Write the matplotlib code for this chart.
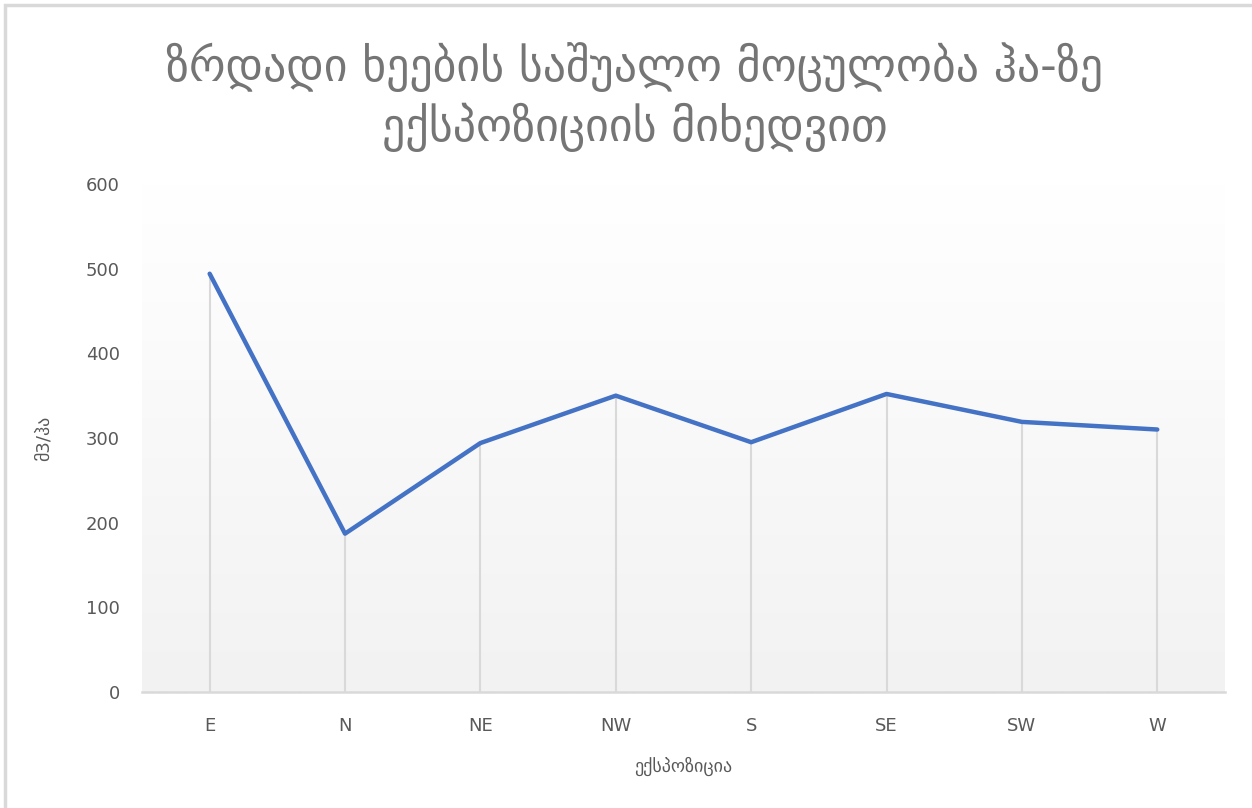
import numpy as np
import matplotlib
matplotlib.use("Agg")
import matplotlib.pyplot as plt
from matplotlib.patches import Rectangle
from matplotlib.colors import LinearSegmentedColormap

plt.rcParams['font.family'] = ['DejaVu Sans']

categories = ["E", "N", "NE", "NW", "S", "SE", "SW", "W"]
values = [494, 187, 294, 350, 295, 352, 319, 310]
yticks = [0, 100, 200, 300, 400, 500, 600]
title = "ზრდადი ხეების საშუალო მოცულობა ჰა-ზე\nექსპოზიციის მიხედვით"
xlabel = "ექსპოზიცია"
ylabel = "მ3/ჰა"

fig = plt.figure(figsize=(12.52, 8.08), dpi=100)
fig.patch.set_facecolor("white")
fig.add_artist(Rectangle((0.004, -0.01), 1.2, 1.0035, transform=fig.transFigure,
                         fill=False, edgecolor="#d9d9d9", linewidth=2.5))

ax = fig.add_axes([0.1134, 0.1436, 0.8650, 0.6287])
x = np.arange(len(categories))

# gradient background
grad = np.linspace(0, 1, 256).reshape(-1, 1)
cmap = LinearSegmentedColormap.from_list("g", ["#ffffff", "#f2f2f2"])
ax.imshow(grad, aspect="auto", cmap=cmap, extent=(-0.5, 7.5, 0, 600),
          origin="upper", zorder=0)

ax.vlines(x, 0, values, colors="#d9d9d9", linewidth=1.5, zorder=1)
ax.plot(x, values, color="#4472C4", linewidth=3.2, solid_capstyle="round",
        solid_joinstyle="round", zorder=3)

ax.set_xlim(-0.5, 7.5)
ax.set_ylim(0, 600)
ax.set_xticks(x)
ax.set_xticklabels(categories)
ax.set_yticks(yticks)
for s in ["top", "right", "left"]:
    ax.spines[s].set_visible(False)
ax.spines["bottom"].set_color("#d9d9d9")
ax.spines["bottom"].set_linewidth(1.8)
ax.tick_params(axis="both", length=0, colors="#595959", labelsize=13)
ax.tick_params(axis="x", pad=18)
ax.tick_params(axis="y", pad=16)

ax.set_xlabel(xlabel, fontsize=13, color="#595959", labelpad=16)
ax.set_ylabel(ylabel, fontsize=13, color="#595959", labelpad=24)

fig.text(0.507, 0.88, title, ha="center", va="center", fontsize=33,
         color="#757575", linespacing=1.3)

fig.savefig("out.png", dpi=100)
